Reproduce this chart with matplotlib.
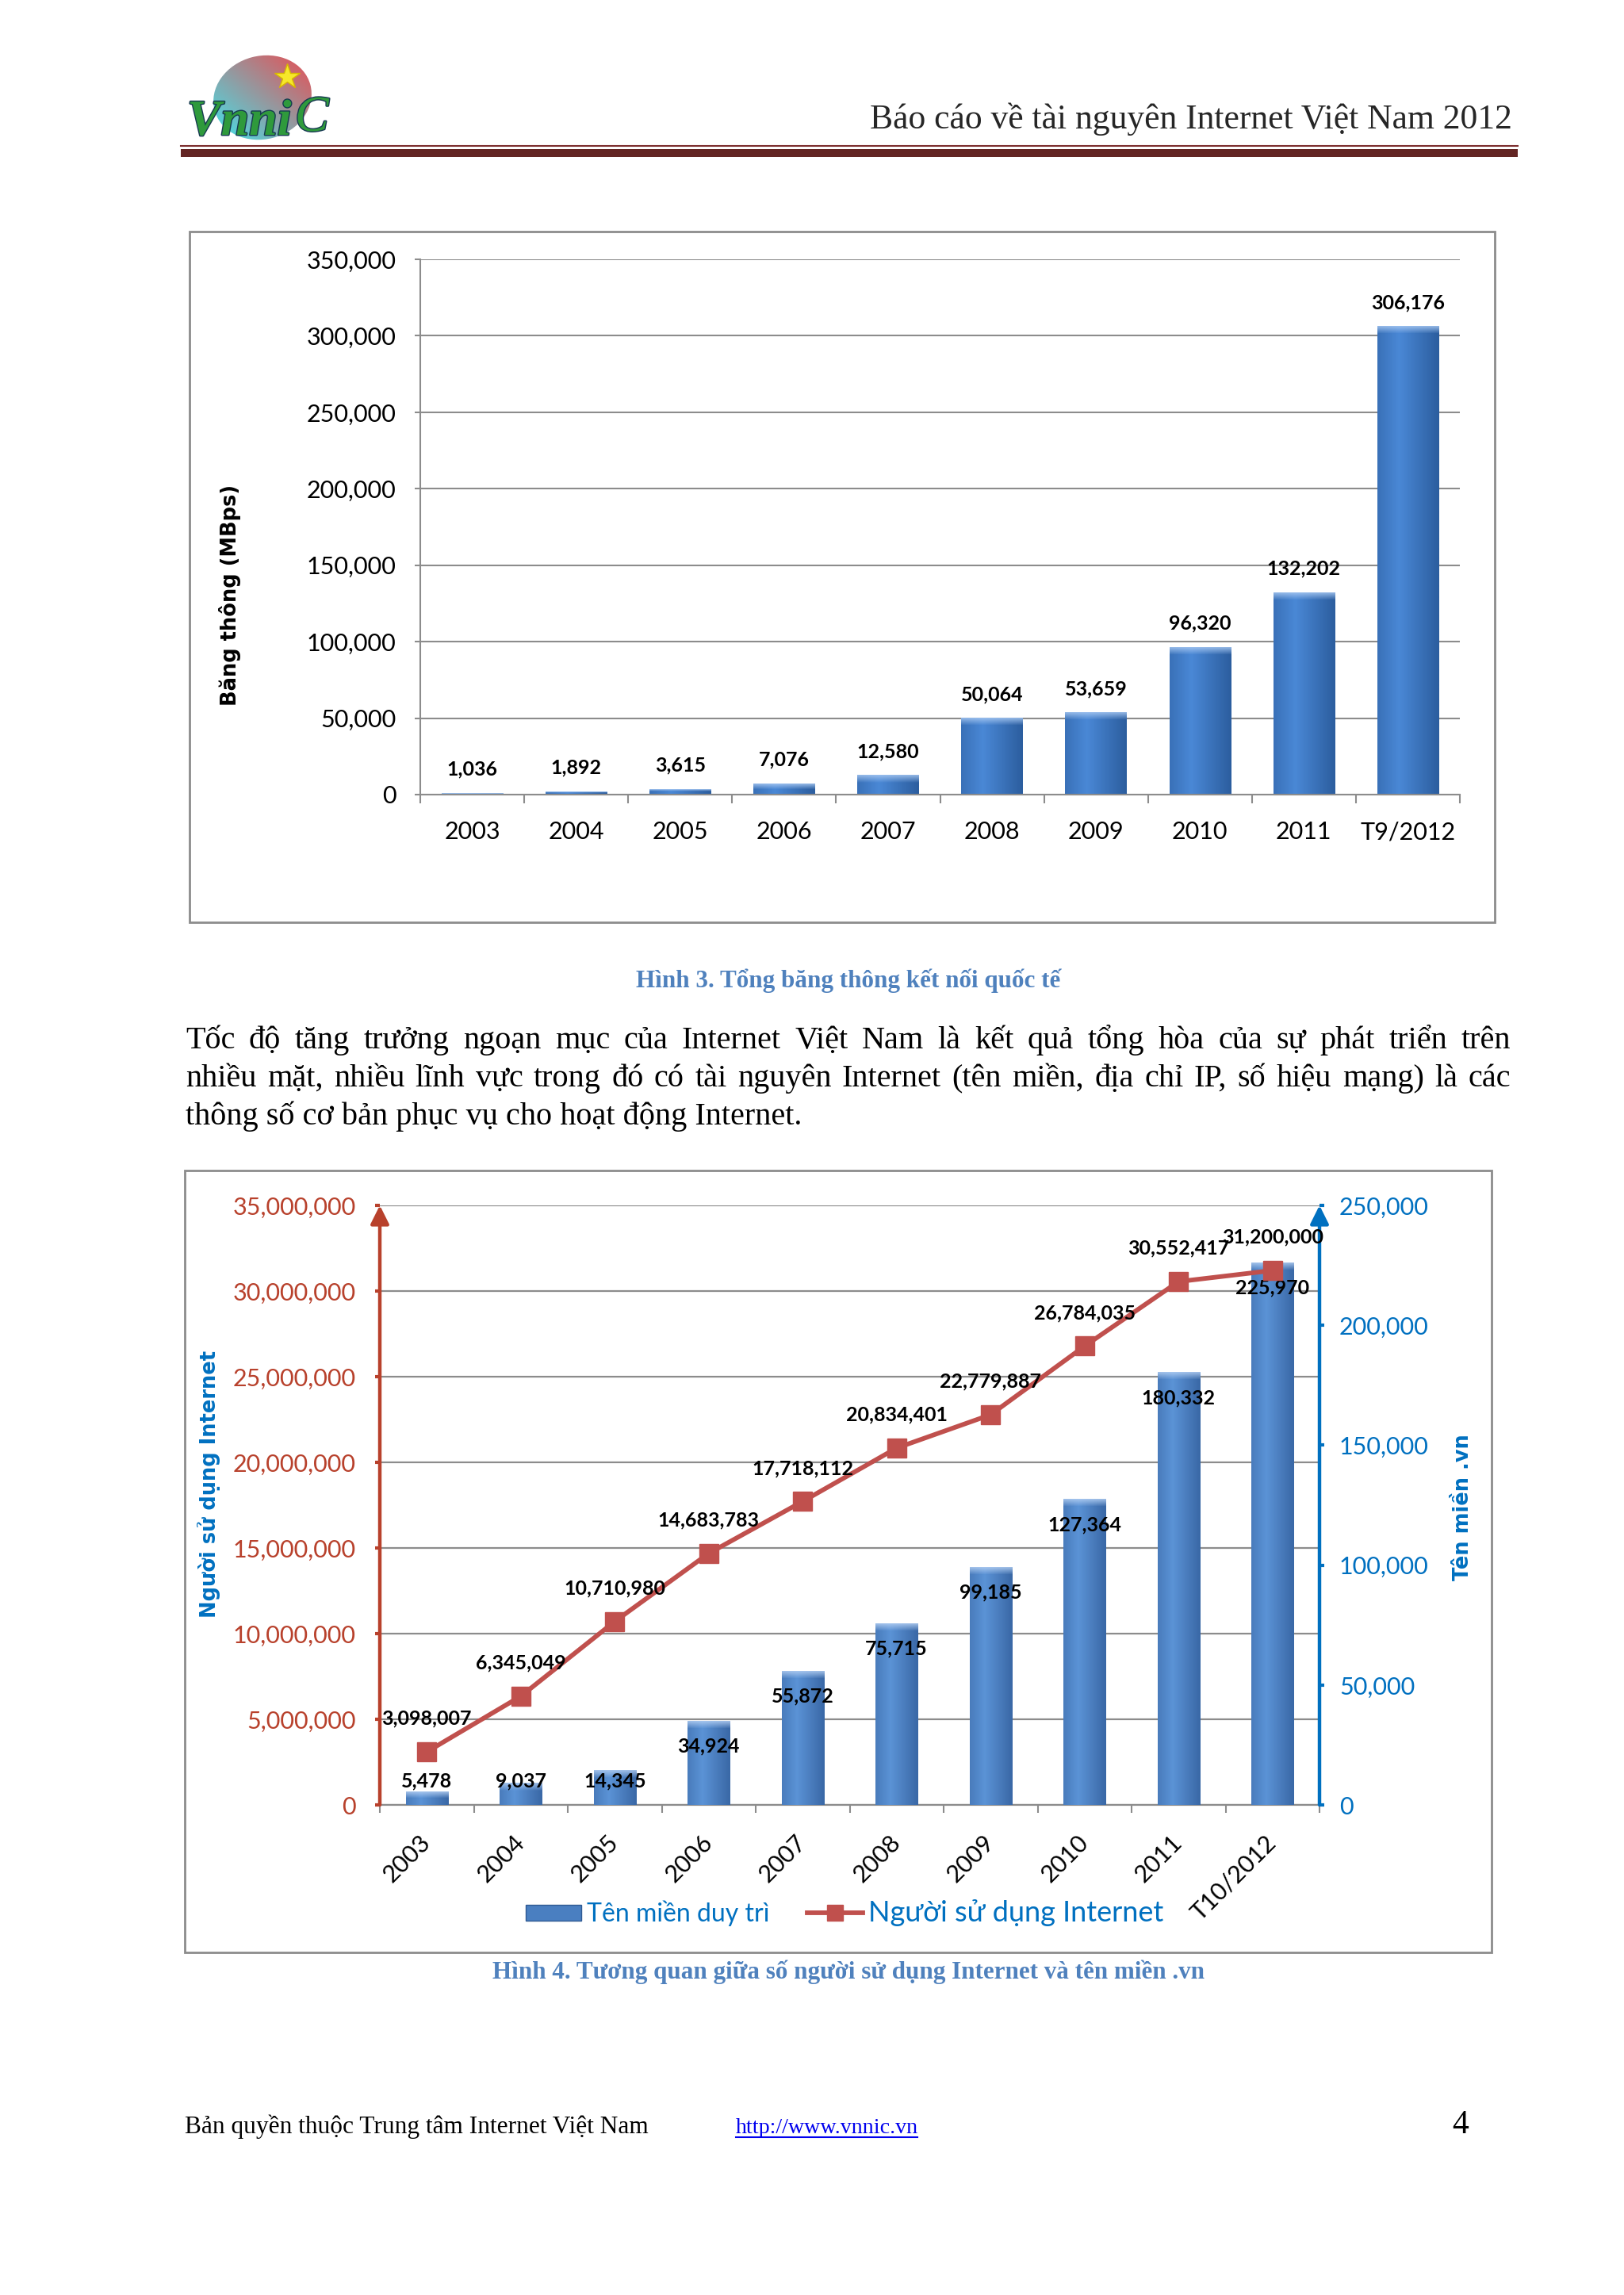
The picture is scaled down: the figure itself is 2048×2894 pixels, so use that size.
import matplotlib
matplotlib.use('Agg')
import matplotlib.pyplot as plt
import matplotlib.patheffects as pe
import numpy as np
from matplotlib.colors import to_rgb
from matplotlib.lines import Line2D
from matplotlib.patches import Rectangle, Ellipse, Patch
from matplotlib.ticker import FuncFormatter

W, H = 2048, 2894

# --- data ---
years_bw = ['2003', '2004', '2005', '2006', '2007', '2008', '2009', '2010', '2011', 'T9/2012']
bandwidth = [1036, 1892, 3615, 7076, 12580, 50064, 53659, 96320, 132202, 306176]

years_vn = ['2003', '2004', '2005', '2006', '2007', '2008', '2009', '2010', '2011', 'T10/2012']
domains = [5478, 9037, 14345, 34924, 55872, 75715, 99185, 127364, 180332, 225970]
users = [3098007, 6345049, 10710980, 14683783, 17718112, 20834401, 22779887,
         26784035, 30552417, 31200000]

header_title = 'Báo cáo về tài nguyên Internet Việt Nam 2012'
caption3 = 'Hình 3. Tổng băng thông kết nối quốc tế'
caption4 = 'Hình 4. Tương quan giữa số người sử dụng Internet và tên miền .vn'
paragraph = [
    'Tốc độ tăng trưởng ngoạn mục của Internet Việt Nam là kết quả tổng hòa của sự phát triển trên',
    'nhiều mặt, nhiều lĩnh vực trong đó có tài nguyên Internet (tên miền, địa chỉ IP, số hiệu mạng) là các',
    'thông số cơ bản phục vụ cho hoạt động Internet.',
]
footer_left = 'Bản quyền thuộc Trung tâm Internet Việt Nam'
footer_link = 'http://www.vnnic.vn'
page_no = '4'

SANS = ['Lato', 'DejaVu Sans']
SERIF = ['Liberation Serif', 'DejaVu Serif']
CAPTION = '#4f81bd'
RED = '#b8412c'
LINE_RED = '#c0504d'
BLUE = '#0070c0'
GRID = '#8c8c8c'

plt.rcParams['font.family'] = SANS


def box(x0, y0, x1, y1):
    return [x0 / W, 1 - y1 / H, (x1 - x0) / W, (y1 - y0) / H]


def fx(x):
    return x / W


def fy(y):
    return 1 - y / H


fig = plt.figure(figsize=(W / 100, H / 100), dpi=100)
fig.patch.set_facecolor('white')
renderer = fig.canvas.get_renderer()


def fit(t, width):
    w = t.get_window_extent(renderer).width
    t.set_fontsize(t.get_fontsize() * width / w)


def shade(ax, bars, dark, light, cap, cap_px):
    dark, light, cap = (np.array(to_rgb(c)) for c in (dark, light, cap))
    t = np.linspace(0, 1, 48)
    f = np.clip(1 - np.abs(t - 0.35) / 0.65, 0, 1)
    row = dark + (light - dark) * f[:, None]
    for b in bars:
        x0, y0 = b.get_xy()
        x1, y1 = x0 + b.get_width(), y0 + b.get_height()
        hp = ax.transData.transform((x0, y1))[1] - ax.transData.transform((x0, y0))[1]
        ny = max(int(round(hp)), 2)
        img = np.repeat(row[None], ny, axis=0)
        k = min(int(cap_px), ny // 2)
        if k:
            w = np.linspace(0.8, 0.1, k)[:, None, None]
            img[:k] = img[:k] * (1 - w) + cap * w
        ax.imshow(img, extent=(x0, x1, y0, y1), origin='upper', aspect='auto',
                  interpolation='bilinear', zorder=b.get_zorder() + 0.1, clip_path=b)


# --- header ---
ht = fig.text(fx(1907), fy(162), header_title, ha='right', va='baseline',
              family=SERIF, fontsize=28, color='#262626')
fit(ht, 810)
fig.add_artist(Line2D([fx(228), fx(1914)], [fy(184), fy(184)], color='#7b2c2c', lw=1.5))
fig.add_artist(Rectangle((fx(228), fy(198)), (1914 - 228) / W, 10 / H,
                         transform=fig.transFigure, color='#632523', lw=0))

# logo
axg = fig.add_axes(box(230, 50, 430, 185))
axg.set_xlim(230, 430)
axg.set_ylim(185, 50)
axg.axis('off')
ell = Ellipse((331, 123), 125, 105, angle=-15, fill=False, lw=0)
axg.add_patch(ell)
gx, gy = np.meshgrid(np.linspace(0, 1, 80), np.linspace(0, 1, 80))
tt = (gx + (1 - gy)) / 2
c0, c1 = np.array(to_rgb('#3fe6ee')), np.array(to_rgb('#ec4a4f'))
grad = c0 + (c1 - c0) * tt[..., None]
axg.imshow(grad, extent=(266, 396, 177, 68), origin='upper', aspect='auto', clip_path=ell)
axg.plot(362, 97, marker='*', ms=24, color='#f6e82a', mec='#d8b800', mew=1)
axg.text(236, 170, 'Vnni', fontsize=46, style='italic', weight='bold', family=SERIF,
         color='#2f9a3c', va='baseline',
         path_effects=[pe.withStroke(linewidth=2, foreground='#173a52')])
axg.text(372, 165, 'C', fontsize=46, style='italic', family=SERIF, color='#2f9a3c',
         va='baseline', path_effects=[pe.withStroke(linewidth=2, foreground='#173a52')])

# --- chart 1: bandwidth ---
fig.add_artist(Rectangle((fx(239), fy(1163)), (1885 - 239) / W, (1163 - 292) / H,
                         transform=fig.transFigure, fill=False, edgecolor=GRID, lw=2))
ax1 = fig.add_axes(box(530, 327, 1841, 1002))
x1 = np.arange(len(years_bw))
bars1 = ax1.bar(x1, bandwidth, width=0.59, color='#2f62a6', zorder=2)
ax1.set_xlim(-0.5, len(years_bw) - 0.5)
ax1.set_ylim(0, 350000)
ax1.set_yticks(np.arange(0, 350001, 50000))
ax1.yaxis.set_major_formatter(FuncFormatter(lambda v, p: f'{v:,.0f}'))
ax1.grid(axis='y', color=GRID, lw=1.5)
ax1.set_axisbelow(True)
ax1.set_xticks(x1, years_bw)
ax1.set_xticks(np.arange(-0.5, len(years_bw)), minor=True)
ax1.tick_params(axis='x', which='major', length=0, pad=24, labelsize=22)
ax1.tick_params(axis='x', which='minor', length=8, width=1.5, color=GRID)
ax1.tick_params(axis='y', length=5, width=1.5, color=GRID, pad=17, labelsize=22)
for s in ['top', 'right']:
    ax1.spines[s].set_visible(False)
for s in ['left', 'bottom']:
    ax1.spines[s].set_color(GRID)
    ax1.spines[s].set_linewidth(1.5)
shade(ax1, bars1, '#2c5e9f', '#4a88d6', '#a9c9f2', 9)
for xi, v in zip(x1, bandwidth):
    ax1.annotate(f'{v:,}', (xi, v), xytext=(0, 21.6), textcoords='offset points',
                 ha='center', va='center', fontsize=18, weight='bold')
fig.text(fx(290), fy(750), 'Băng thông (MBps)', rotation=90, ha='center', va='center',
         family='DejaVu Sans', weight='bold', fontsize=18.5)

c3 = fig.text(fx(1070), fy(1245), caption3, ha='center', va='baseline', family=SERIF,
              weight='bold', color=CAPTION, fontsize=20)
fit(c3, 535)

# --- paragraph, justified ---
PX0, PX1, PSIZE = 234, 1905, 29
for i, (line, y) in enumerate(zip(paragraph, [1322, 1370, 1418])):
    if i == len(paragraph) - 1:
        fig.text(fx(PX0), fy(y), line, family=SERIF, fontsize=PSIZE, va='baseline')
        continue
    words = line.split()
    texts = [fig.text(0, fy(y), w, family=SERIF, fontsize=PSIZE, va='baseline') for w in words]
    widths = [t.get_window_extent(renderer).width for t in texts]
    gap = (PX1 - PX0 - sum(widths)) / (len(words) - 1)
    xc = PX0
    for t, w in zip(texts, widths):
        t.set_x(fx(xc))
        xc += w + gap

# --- chart 2: users vs .vn domains ---
fig.add_artist(Rectangle((fx(233), fy(2462)), (1881 - 233) / W, (2462 - 1476) / H,
                         transform=fig.transFigure, fill=False, edgecolor=GRID, lw=2))
ax = fig.add_axes(box(479, 1520, 1664, 2276))
ax2 = ax.twinx()
axl = ax2.twinx()
ax2.yaxis.tick_right()
x2 = np.arange(len(years_vn))

ax.set_xlim(-0.5, len(years_vn) - 0.5)
ax.set_ylim(0, 35e6)
ax.set_yticks(np.arange(0, 35e6 + 1, 5e6))
ax.yaxis.set_major_formatter(FuncFormatter(lambda v, p: f'{v:,.0f}'))
ax.grid(axis='y', color=GRID, lw=1.6)
ax.set_xticks(x2, years_vn, rotation=45, ha='right', va='center', rotation_mode='anchor')
ax.set_xticks(np.arange(-0.5, len(years_vn)), minor=True)
ax.tick_params(axis='x', which='major', length=0, pad=31, labelsize=22)
ax.tick_params(axis='x', which='minor', length=7, width=1.5, color=GRID)
ax.tick_params(axis='y', colors=RED, length=4, width=3, pad=18, labelsize=22)
for s in ['top', 'left', 'right']:
    ax.spines[s].set_visible(False)
ax.spines['bottom'].set_color(GRID)
ax.spines['bottom'].set_linewidth(1.6)
ax.annotate('', xy=(0, 1), xytext=(0, 0), xycoords='axes fraction',
            arrowprops=dict(arrowstyle='-|>,head_length=0.7,head_width=0.35', color=RED,
                            lw=3.2, mutation_scale=20, shrinkA=0, shrinkB=0))

bars2 = ax2.bar(x2, domains, width=0.45, color='#3b69a8', zorder=2)
ax2.set_xlim(-0.5, len(years_vn) - 0.5)
ax2.set_ylim(0, 250000)
ax2.set_yticks(np.arange(0, 250001, 50000))
ax2.yaxis.set_major_formatter(FuncFormatter(lambda v, p: f'{v:,.0f}'))
ax2.tick_params(axis='y', colors=BLUE, length=4, width=3, pad=14, labelsize=22)
for s in ax2.spines.values():
    s.set_visible(False)
ax2.annotate('', xy=(1, 1), xytext=(1, 0), xycoords='axes fraction',
             arrowprops=dict(arrowstyle='-|>,head_length=0.7,head_width=0.35', color=BLUE,
                             lw=3.2, mutation_scale=20, shrinkA=0, shrinkB=0))
shade(ax2, bars2, '#3a68a6', '#5b93d6', '#b5d0f3', 9)
for xi, v in zip(x2, domains):
    ax2.text(xi, max(v - 10500, 10000), f'{v:,}', ha='center', va='center',
             fontsize=18, weight='bold', zorder=5)

axl.set_ylim(0, 35e6)
axl.axis('off')
axl.plot(x2, users, color=LINE_RED, lw=4.2, marker='s', ms=17, mfc=LINE_RED, mec=LINE_RED)
for xi, v in zip(x2, users):
    axl.annotate(f'{v:,}', (xi, v), xytext=(0, 30), textcoords='offset points',
                 ha='center', va='center', fontsize=18, weight='bold')

fig.text(fx(264), fy(1871), 'Người sử dụng Internet', rotation=90, ha='center', va='center',
         family='DejaVu Sans', weight='bold', fontsize=18.5, color=BLUE)
fig.text(fx(1845), fy(1901), 'Tên miền .vn', rotation=90, ha='center', va='center',
         family='DejaVu Sans', weight='bold', fontsize=18.5, color=BLUE)

handles = [Patch(facecolor='#4a7fc1', edgecolor='#2f5a93'),
           Line2D([], [], color=LINE_RED, lw=4.2, marker='s', ms=14)]
leg = fig.legend(handles, ['Tên miền duy trì', 'Người sử dụng Internet'], loc='center',
                 bbox_to_anchor=(fx(1065), fy(2412)), ncol=2, frameon=False, fontsize=23,
                 labelcolor=BLUE, handlelength=2.2, handleheight=0.6, handletextpad=0.2,
                 columnspacing=1.5)
leg.get_texts()[1].set_fontsize(26)

c4 = fig.text(fx(1070), fy(2495), caption4, ha='center', va='baseline', family=SERIF,
              weight='bold', color=CAPTION, fontsize=20)
fit(c4, 897)

# --- footer ---
ft = fig.text(fx(233), fy(2690), footer_left, va='baseline', family=SERIF, fontsize=22)
fit(ft, 583)
lk = fig.text(fx(928), fy(2690), footer_link, va='baseline', family=SERIF, fontsize=22,
              color='#0000ee')
fit(lk, 229)
fig.add_artist(Line2D([fx(928), fx(1157)], [fy(2695), fy(2695)], color='#0000ee', lw=1.5))
fig.text(fx(1852), fy(2690), page_no, ha='right', va='baseline', family=SERIF, fontsize=30)

fig.savefig('out.png', dpi=100)
